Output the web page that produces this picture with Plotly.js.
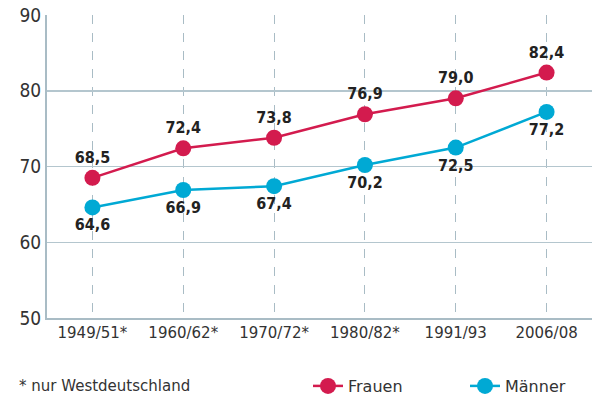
<!DOCTYPE html>
<html><head><meta charset="utf-8">
<script src="https://cdn.plot.ly/plotly-3.0.1.min.js"></script>
<style>body{margin:0;background:#fff}#c{width:603px;height:401px}</style>
</head><body><div id="c"></div>
<script>
const categories = ['1949/51*','1960/62*','1970/72*','1980/82*','1991/93','2006/08'];
const frauen = [68.5, 72.4, 73.8, 76.9, 79.0, 82.4];
const maenner = [64.6, 66.9, 67.4, 70.2, 72.5, 77.2];
const yTicks = [50, 60, 70, 80, 90];
const footnote = '* nur Westdeutschland';

const fmt = v => v.toFixed(1).replace('.', ',');
const labelFont = {family: 'DejaVu Sans Condensed, DejaVu Sans', size: 16, color: '#222', weight: 'bold'};
const plainFont = 'DejaVu Sans';

const traces = [
  {x: categories, y: frauen, name: 'Frauen', type: 'scatter', mode: 'lines+markers+text',
   line: {color: '#d31b4e', width: 2.5}, marker: {color: '#d31b4e', size: 16},
   text: frauen.map(fmt), textposition: 'top center', textfont: labelFont, cliponaxis: false},
  {x: categories, y: maenner, name: 'Männer', type: 'scatter', mode: 'lines+markers+text',
   line: {color: '#00a9d4', width: 2.5}, marker: {color: '#00a9d4', size: 16},
   text: maenner.map(fmt), textposition: 'bottom center', textfont: labelFont, cliponaxis: false}
];

const layout = {
  width: 603, height: 401,
  margin: {l: 47, r: 11, t: 15, b: 83, autoexpand: false},
  paper_bgcolor: '#fff', plot_bgcolor: '#fff',
  font: {family: 'DejaVu Sans Condensed, DejaVu Sans', color: '#333'},
  showlegend: true,
  legend: {orientation: 'h', xref: 'container', yref: 'container', x: 308/603, xanchor: 'left',
           y: 15/401, yanchor: 'middle', font: {family: plainFont, size: 16, color: '#333'},
           traceorder: 'normal', entrywidth: 112, entrywidthmode: 'pixels'},
  xaxis: {type: 'category', range: [-0.5, 5.5], showgrid: true, gridcolor: '#a9bcc5',
          griddash: 'dash', gridwidth: 1, showline: true, linecolor: '#a9bcc5', linewidth: 2,
          ticks: '', tickfont: {family: plainFont, size: 15, color: '#333'}, zeroline: false, fixedrange: true},
  yaxis: {range: [50, 90], tickvals: yTicks, showgrid: true, gridcolor: '#b4c6ce', gridwidth: 1.5,
          showline: true, linecolor: '#a9bcc5', linewidth: 2, ticks: '', zeroline: false,
          tickfont: {size: 19, color: '#333'}, fixedrange: true},
  annotations: [{text: footnote, xref: 'paper', yref: 'paper', x: -0.055, y: -68/303,
                 xanchor: 'left', yanchor: 'middle', showarrow: false,
                 font: {family: plainFont, size: 15, color: '#333'}}]
};
Plotly.newPlot('c', traces, layout, {displayModeBar: false, staticPlot: true});
</script></body></html>
